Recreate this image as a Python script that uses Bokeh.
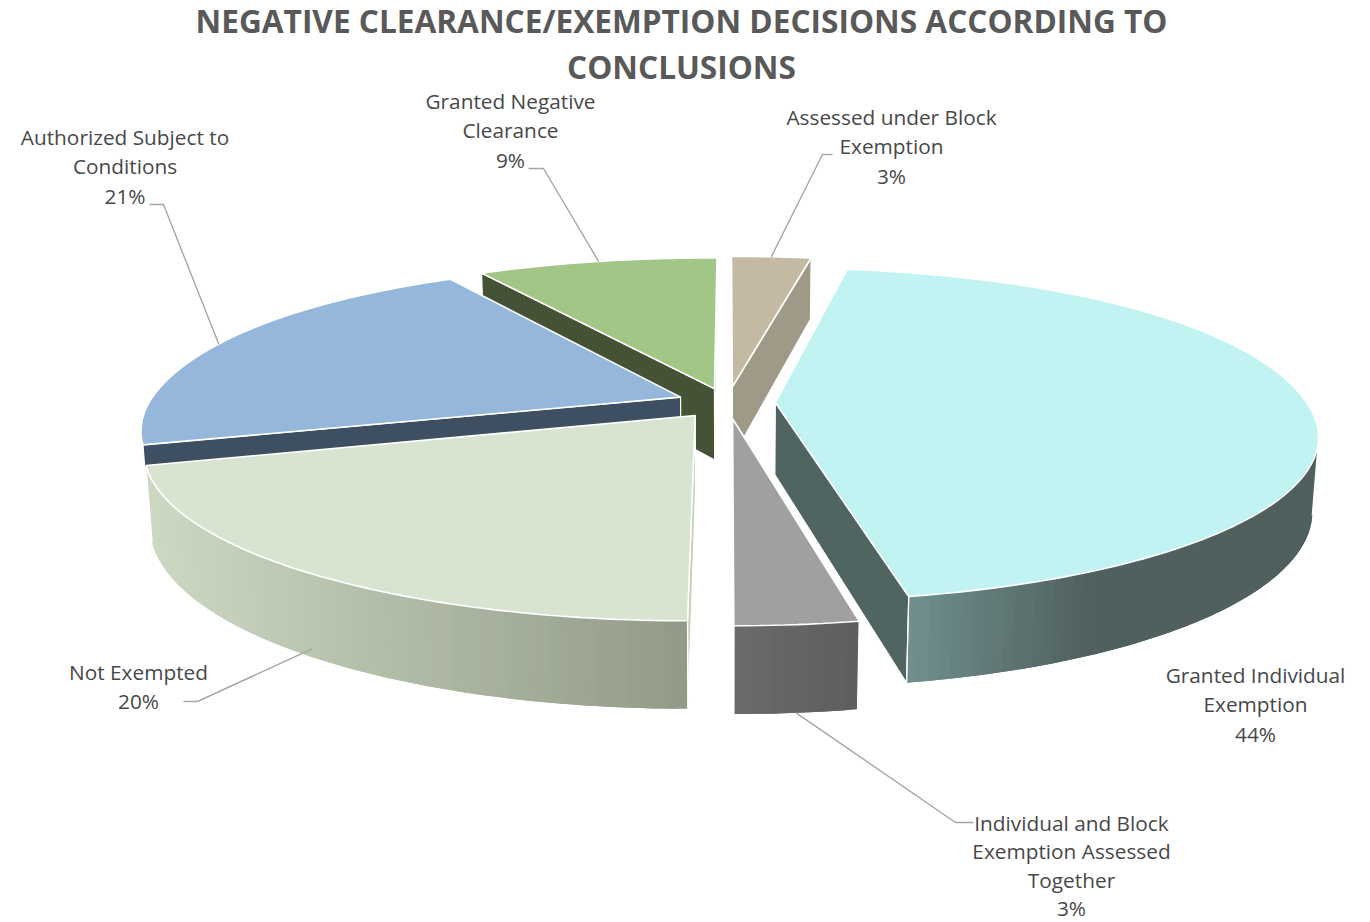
import numpy as np
from bokeh.plotting import figure
from bokeh.models import ColumnDataSource, Range1d
from bokeh.core.properties import value
from bokeh.embed import file_html
from bokeh.resources import INLINE

# ---- data (clockwise from twelve o'clock)
names = ["Assessed under Block Exemption", "Granted Individual Exemption",
         "Individual and Block Exemption Assessed Together", "Not Exempted",
         "Authorized Subject to Conditions", "Granted Negative Clearance"]
shares = [3.0, 44.0, 3.0, 20.4, 20.7, 8.9]
title_lines = ["NEGATIVE CLEARANCE/EXEMPTION DECISIONS ACCORDING TO", "CONCLUSIONS"]

# ---- styles
top_colors = ["#C4BAA4", "#C1F3F2", "#A0A0A0", "#D8E4D0", "#94B7DB", "#A2C686"]
cut_colors = ["#9F9987", "#506462", "#A0A0A0", "#C5D0BB", "#3E4F61", "#445236"]
# wall colour as a function of page x
wall_stops = [
    None,
    [(908, "#70908E"), (1090, "#50605F")],
    [(735, "#6B6B6B"), (855, "#5E5E5E")],
    [(150, "#CDD8C3"), (690, "#909A86")],
    None,
    None,
]
label_lines = [["Assessed under Block", "Exemption"], ["Granted Individual", "Exemption"],
               ["Individual and Block", "Exemption Assessed", "Together"], ["Not Exempted"],
               ["Authorized Subject to", "Conditions"], ["Granted Negative", "Clearance"]]
label_x = [891, 1255, 1071, 138, 124.5, 510]
label_y0 = [116.5, 674.5, 822, 671.5, 136.5, 100.5]
label_step = [29.4, 29.4, 28.5, 29.4, 29.4, 29.4]
elbows = [[(832, 154), (822, 154)], None, [(973, 822), (955, 822)], [(183, 701), (197, 701)],
          [(149, 204), (163, 204)], [(528, 168), (543, 168)]]
anchor_z = [0, 0, 1, 0.9, 0, 0]
explode = [0.1, 0.09, 0.1, 0.1, 0.095, 0.09]
cut_rim_z = [1, 1, 1, 1, 0.3, 1]

# ---- projection of the pie's plane to the page
CX, CY, A, B, K, H, M, WARP, BACK = 727, 402, 511, 160.6, 0.19, 73, 0.01, 0.04, 0.025


def proj(theta, radius, bisector, z, e):
    t, bi = np.radians(theta), np.radians(bisector)
    r = radius * (1 + BACK * np.sin(2 * t) ** 2 if np.cos(t) > 0 else 1)
    u = r * np.sin(t) + e * np.sin(bi)
    v = r * np.cos(t) + e * np.cos(bi)
    w = 1 + K * v + M * z
    f = 1 + WARP * (1 - min(max(v, 0) ** 2, 1))
    return CX + A * f * u / w, CY + (-B * v + H * z) / w


def hex_rgb(h):
    return np.array([int(h[i:i + 2], 16) for i in (1, 3, 5)], float)


def shade(stops, x):
    xs = [s[0] for s in stops]
    cols = np.array([hex_rgb(s[1]) for s in stops])
    c = [np.interp(x, xs, cols[:, i]) for i in range(3)]
    return "#%02x%02x%02x" % tuple(int(round(q)) for q in c)


def ccw(px, py):
    s = 0
    for i in range(len(px)):
        j = (i + 1) % len(px)
        s += px[i] * py[j] - px[j] * py[i]
    return s < 0


p = figure(width=1370, height=922, output_backend="svg", toolbar_location=None,
           x_range=Range1d(0, 1370), y_range=Range1d(922, 0), min_border=0)
p.axis.visible = False
p.grid.visible = False
p.outline_line_color = None

edges = np.cumsum([0] + shares) * 360.0 / sum(shares)
bisectors = (edges[:-1] + edges[1:]) / 2
order = np.argsort(-np.cos(np.radians(bisectors)))

for i in order:
    t1, t2, bi, e = edges[i], edges[i + 1], bisectors[i], explode[i]
    walls = {"xs": [], "ys": [], "c": []}
    outlines_x, outlines_y = [], []

    ax0, ay0 = proj(0, 0, bi, 0, e)
    ax1, ay1 = proj(0, 0, bi, 1, e)
    for th, start in ((t1, True), (t2, False)):
        rx0, ry0 = proj(th, 1, bi, 0, e)
        rx1, ry1 = proj(th, 1, bi, cut_rim_z[i], e)
        if start:
            qx, qy = [ax0, rx0, rx1, ax1], [ay0, ry0, ry1, ay1]
        else:
            qx, qy = [rx0, ax0, ax1, rx1], [ry0, ay0, ay1, ry1]
        if ccw(qx, qy):
            walls["xs"].append(qx); walls["ys"].append(qy); walls["c"].append(cut_colors[i])
            outlines_x.append(qx + qx[:1]); outlines_y.append(qy + qy[:1])

    if wall_stops[i] is not None:
        n = max(2, int((t2 - t1) / 1.0))
        ths = np.linspace(t1, t2, n + 1)
        step = ths[1] - ths[0]
        vis = []
        for a, c in zip(ths[:-1], ths[1:]):
            x0, y0 = proj(a, 1, bi, 0, e); x1, y1 = proj(c, 1, bi, 0, e)
            x2, y2 = proj(c, 1, bi, 1, e); x3, y3 = proj(a, 1, bi, 1, e)
            if ccw([x0, x1, x2, x3], [y0, y1, y2, y3]):
                # each strip runs on under the next one, so no seams show
                c2 = min(c + step, t2)
                x1b, y1b = proj(c2, 1, bi, 0, e); x2b, y2b = proj(c2, 1, bi, 1, e)
                walls["xs"].append([x0, x1, x1b, x2b, x2, x3]); walls["ys"].append([y0, y1, y1b, y2b, y2, y3])
                walls["c"].append(shade(wall_stops[i], (x0 + x1) / 2))
                vis.append((a, c))
        if vis:
            for th in (vis[0][0], vis[-1][1]):
                tx, ty = proj(th, 1, bi, 0, e); bx, by = proj(th, 1, bi, 1, e)
                outlines_x.append([tx, bx]); outlines_y.append([ty, by])
    if walls["xs"]:
        p.patches("xs", "ys", source=ColumnDataSource(walls), fill_color="c", line_color=None)
    if outlines_x:
        p.multi_line(outlines_x, outlines_y, line_color="white", line_width=1.2)

    arc = np.linspace(t1, t2, max(6, int(t2 - t1)) + 1)
    fx = [ax0] + [proj(t, 1, bi, 0, e)[0] for t in arc]
    fy = [ay0] + [proj(t, 1, bi, 0, e)[1] for t in arc]
    p.patch(fx, fy, fill_color=top_colors[i], line_color="white", line_width=1.6)

# ---- leaders
for i, el in enumerate(elbows):
    if el is None:
        continue
    bi = bisectors[i]
    ax, ay = proj(bi, 1, bi, anchor_z[i], explode[i])
    p.line([el[0][0], el[1][0], ax], [el[0][1], el[1][1], ay], line_color="#A6A6A6", line_width=1.4)

# ---- labels
for i, lines in enumerate(label_lines):
    rows = lines + ["%d%%" % round(shares[i])]
    ys = [label_y0[i] + k * label_step[i] for k in range(len(rows))]
    p.text([label_x[i]] * len(rows), ys, text=rows, text_font=value("Open Sans"),
           text_font_size="20.8px", text_color="#484848", text_align="center", text_baseline="middle")

# ---- title
p.text([681, 681], [20, 66], text=title_lines, text_font=value("Open Sans"), text_font_style="bold",
       text_font_size="31.6px", text_color="#595959", text_align="center", text_baseline="middle")

open("out.html", "w").write(file_html(p, INLINE))
